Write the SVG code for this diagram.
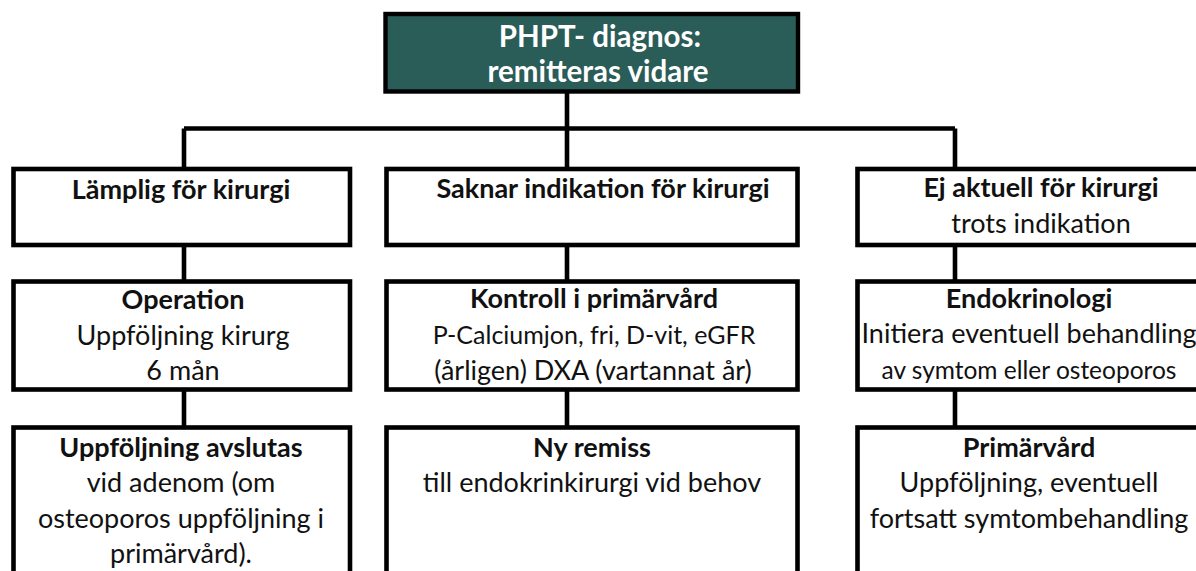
<svg xmlns="http://www.w3.org/2000/svg" width="1196" height="571" viewBox="0 0 1196 571">
<style>
.box{fill:#ffffff;stroke:#000000;stroke-width:4.6}
.top{fill:#2a5c58;stroke:#000000;stroke-width:4.4}
.conn{fill:none;stroke:#000000;stroke-width:4.6}
text{font-family:Lato,"Liberation Sans",sans-serif;font-size:27px;fill:#111111;text-anchor:middle}
.b{font-weight:bold}
.n{font-size:25px}
.s{font-size:24.5px}
.w{fill:#ffffff;font-weight:bold;font-size:29.5px}
</style>
<rect width="1196" height="571" fill="#ffffff"/>
<g id="connectors">
<path class="conn" d="M567,91 V128.5 M184,128.5 H955 M184,128.5 V169 M567,128.5 V169 M955,128.5 V169"/>
<path class="conn" d="M184,245 V281.5 M567,245 V281.5 M955,245 V281.5"/>
<path class="conn" d="M184,389.5 V427.5 M567,389.5 V427.5 M955,389.5 V427.5"/>
</g>
<g id="n-top">
<rect class="top" x="385.5" y="14" width="412.5" height="77.5"/>
<text class="w" x="600" y="47">PHPT- diagnos:</text>
<text class="w" x="598" y="82">remitteras vidare</text>
</g>
<g id="n-lamplig">
<rect class="box" x="13.5" y="169" width="336.5" height="76"/>
<text class="b" x="181" y="199">Lämplig för kirurgi</text>
</g>
<g id="n-saknar">
<rect class="box" x="386.5" y="169" width="411" height="76"/>
<text class="b" x="603" y="198">Saknar indikation för kirurgi</text>
</g>
<g id="n-ej">
<rect class="box" x="857.5" y="169" width="360" height="76"/>
<text class="b" x="1041" y="197">Ej aktuell för kirurgi</text>
<text x="1041" y="233">trots indikation</text>
</g>
<g id="n-operation">
<rect class="box" x="13.5" y="281.5" width="336.5" height="108"/>
<text class="b" x="183" y="309">Operation</text>
<text x="183" y="344.5">Uppföljning kirurg</text>
<text x="183" y="380">6 mån</text>
</g>
<g id="n-kontroll">
<rect class="box" x="386.5" y="281.5" width="411" height="108"/>
<text class="b" x="594" y="308">Kontroll i primärvård</text>
<text class="n" x="594" y="344">P-Calciumjon, fri, D-vit, eGFR</text>
<text x="593" y="380">(årligen) DXA (vartannat år)</text>
</g>
<g id="n-endo">
<rect class="box" x="857.5" y="281.5" width="360" height="108"/>
<text class="b" x="1029" y="308">Endokrinologi</text>
<text x="1029" y="343">Initiera eventuell behandling</text>
<text class="s" x="1029" y="379">av symtom eller osteoporos</text>
</g>
<g id="n-avslutas">
<rect class="box" x="13.5" y="427.5" width="336.5" height="160"/>
<text class="b" x="181" y="457">Uppföljning avslutas</text>
<text x="181" y="492">vid adenom (om</text>
<text x="181" y="528">osteoporos uppföljning i</text>
<text x="181" y="563">primärvård).</text>
</g>
<g id="n-remiss">
<rect class="box" x="386.5" y="427.5" width="411" height="160"/>
<text class="b" x="592" y="457">Ny remiss</text>
<text x="592" y="492">till endokrinkirurgi vid behov</text>
</g>
<g id="n-primarvard">
<rect class="box" x="857.5" y="427.5" width="360" height="160"/>
<text class="b" x="1029" y="457">Primärvård</text>
<text x="1029" y="492">Uppföljning, eventuell</text>
<text x="1029" y="528">fortsatt symtombehandling</text>
</g>
</svg>
